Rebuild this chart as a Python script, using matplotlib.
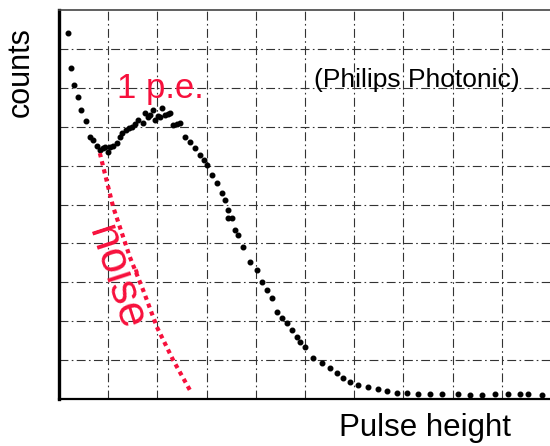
import matplotlib
matplotlib.use("Agg")
import matplotlib.pyplot as plt

plt.rcParams['font.family'] = ['Liberation Sans', 'DejaVu Sans']

# measured spectrum (grid divisions)
pulse = [0.18, 0.24, 0.30, 0.39, 0.45, 0.55, 0.63, 0.69, 0.77, 0.83, 0.89, 0.93,
         1.00, 1.04, 1.10, 1.18, 1.24, 1.28, 1.36, 1.42, 1.48, 1.54, 1.61, 1.71,
         1.75, 1.81, 1.85, 1.91, 1.95, 2.01, 2.05, 2.09, 2.15, 2.22, 2.26, 2.32,
         2.40, 2.46, 2.56, 2.66, 2.76, 2.87, 2.95, 3.01, 3.11, 3.21, 3.31, 3.37,
         3.43, 3.43, 3.52, 3.58, 3.64, 3.74, 3.88, 4.02, 4.13, 4.23, 4.33, 4.43,
         4.53, 4.63, 4.74, 4.84, 4.90, 5.00, 5.16, 5.35, 5.51, 5.65, 5.77, 5.91,
         6.08, 6.28, 6.48, 6.67, 6.87, 7.07, 7.30, 7.54, 7.78, 8.11, 8.35, 8.60,
         8.86, 9.13, 9.37, 9.53, 9.82]
counts = [9.41, 8.51, 8.07, 7.76, 7.43, 7.15, 6.74, 6.66, 6.50, 6.40, 6.45, 6.48,
          6.35, 6.48, 6.50, 6.58, 6.74, 6.84, 6.92, 6.97, 6.99, 7.07, 7.17, 7.10,
          7.35, 7.25, 7.30, 7.43, 7.17, 7.28, 7.25, 7.48, 7.30, 7.33, 7.35, 7.04,
          7.07, 7.10, 6.74, 6.61, 6.45, 6.27, 6.14, 6.02, 5.76, 5.55, 5.30, 5.12,
          4.86, 4.65, 4.65, 4.34, 4.22, 3.91, 3.52, 3.32, 3.01, 2.80, 2.60, 2.24,
          2.08, 1.95, 1.77, 1.59, 1.47, 1.34, 1.05, 0.93, 0.80, 0.67, 0.54, 0.44,
          0.36, 0.31, 0.26, 0.21, 0.15, 0.15, 0.13, 0.13, 0.13, 0.13, 0.10, 0.10,
          0.13, 0.13, 0.13, 0.13, 0.10]

# noise tail sketch
noise_x = [0.83, 1.10, 1.44, 1.71, 1.99, 2.32, 2.66]
noise_y = [6.32, 4.94, 3.65, 2.80, 1.85, 1.00, 0.23]

red = '#f7103c'

fig = plt.figure(figsize=(5.5, 4.46), dpi=100)
ax = fig.add_axes([59/550, 1 - 399/446, 491/550, 389/446])
ax.set_xlim(0, 9.98)
ax.set_ylim(0, 10)

for v in range(1, 10):
    ax.axvline(v, color='#333333', lw=0.8, ls=(0, (8, 3, 1.5, 3)), zorder=1)
    ax.axhline(v, color='#333333', lw=0.8, ls=(0, (8, 3, 1.5, 3)), zorder=1)

ax.plot(pulse, counts, 'o', color='black', ms=3.3, zorder=3)
ax.plot(noise_x, noise_y, color=red, lw=3, ls=(0, (1, 1)), zorder=4)

ax.text(1.18, 7.74, '1 p.e.', color=red, fontsize=25, ha='left', va='baseline')
ax.text(7.27, 8.2, '(Philips Photonic)', color='black', fontsize=19,
        ha='center', va='center')
ax.text(1.14, 3.1, 'noise', color=red, fontsize=32, rotation=-72,
        ha='center', va='center', rotation_mode='anchor')

ax.set_xticks([])
ax.set_yticks([])
ax.spines['left'].set_linewidth(2.4)
ax.spines['bottom'].set_linewidth(1.6)
ax.spines['top'].set_linewidth(1.2)
ax.spines['top'].set_color('#444444')
ax.spines['right'].set_visible(False)

fig.text(21/550, 1 - 72/446, 'counts', rotation=90, fontsize=22,
         ha='center', va='center')
fig.text(425/550, 1 - 428/446, 'Pulse height', fontsize=22.5,
         ha='center', va='center')

fig.savefig('out.png', dpi=100)
